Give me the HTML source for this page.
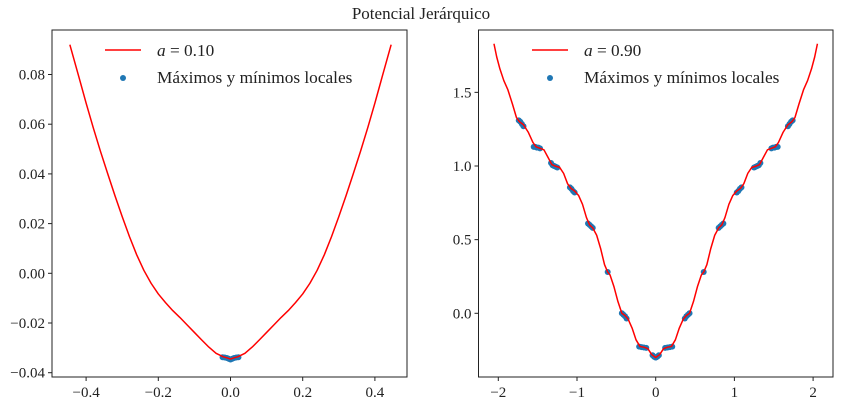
<!DOCTYPE html>
<html><head><meta charset="utf-8"><style>
html,body{margin:0;padding:0;background:#fff;}
svg{display:block;font-family:"Liberation Serif",serif;}
</style></head><body>
<svg id="fig" width="843" height="404" viewBox="0 0 843 404">
<text x="421" y="19" text-anchor="middle" font-size="17" fill="#222">Potencial Jerárquico</text>
<g id="left"></g>
<g id="right"></g>
</svg>
<script>
// Left chart data (a = 0.10), half curve mirrored
const leftHalfX = [0,0.01,0.02,0.04,0.06,0.08,0.1,0.12,0.14,0.16,0.18,0.2,0.22,0.24,0.26,0.28,0.3,0.32,0.34,0.36,0.38,0.4,0.42,0.445];
const leftHalfY = [-0.0345,-0.034,-0.0336,-0.0322,-0.0297,-0.0268,-0.0238,-0.0208,-0.0178,-0.0150,-0.0118,-0.0083,-0.0040,0.0012,0.0075,0.0148,0.0228,0.0312,0.0400,0.0490,0.0585,0.0685,0.0790,0.0920];
const leftDotX = [-0.022,-0.016,-0.01,-0.005,0,0.005,0.01,0.016,0.022];
const leftDotY = [-0.0338,-0.0339,-0.0341,-0.0344,-0.0347,-0.0344,-0.0341,-0.0339,-0.0338];
const leftXTicks = [-0.4,-0.2,0.0,0.2,0.4];
const leftXTickLabels = ["−0.4","−0.2","0.0","0.2","0.4"];
const leftYTicks = [-0.04,-0.02,0,0.02,0.04,0.06,0.08];
const leftYTickLabels = ["−0.04","−0.02","0.00","0.02","0.04","0.06","0.08"];

// Right chart data (a = 0.90)
const rightHalfX = [0,0.05,0.1,0.15,0.2,0.25,0.3,0.35,0.39,0.43,0.48,0.53,0.58,0.61,0.65,0.7,0.75,0.8,0.84,0.88,0.93,0.98,1.03,1.08,1.12,1.17,1.22,1.28,1.32,1.37,1.42,1.47,1.52,1.56,1.62,1.68,1.73,1.77,1.82,1.88,1.93,1.98,2.02,2.055];
const rightHalfY = [-0.30,-0.28,-0.24,-0.23,-0.225,-0.18,-0.10,-0.04,-0.015,0.0,0.08,0.18,0.26,0.28,0.33,0.44,0.53,0.58,0.60,0.65,0.74,0.80,0.83,0.85,0.88,0.95,0.99,1.0,1.01,1.06,1.11,1.12,1.13,1.16,1.23,1.28,1.30,1.33,1.42,1.52,1.58,1.66,1.74,1.83];
const rightDotHalfX = [0,0.02,0.04,0.12,0.15,0.18,0.21,0.37,0.39,0.41,0.43,0.61,0.80,0.82,0.84,0.86,1.03,1.05,1.07,1.09,1.25,1.27,1.29,1.31,1.33,1.47,1.49,1.51,1.53,1.55,1.68,1.70,1.72,1.74];
const rightDotHalfY = [-0.30,-0.295,-0.285,-0.235,-0.232,-0.23,-0.226,-0.035,-0.02,-0.01,0.0,0.28,0.58,0.59,0.60,0.61,0.82,0.83,0.845,0.855,0.99,0.995,1.0,1.005,1.02,1.12,1.125,1.125,1.13,1.13,1.27,1.285,1.30,1.31];
const rightXTicks = [-2,-1,0,1,2];
const rightXTickLabels = ["−2","−1","0","1","2"];
const rightYTicks = [0,0.5,1.0,1.5];
const rightYTickLabels = ["0.0","0.5","1.0","1.5"];

const NS="http://www.w3.org/2000/svg";
function mk(parent,tag,attrs){const e=document.createElementNS(NS,tag);for(const k in attrs)e.setAttribute(k,attrs[k]);parent.appendChild(e);return e;}

function drawChart(g,cfg){
  const sx=v=>cfg.x0+(v-cfg.xa)*cfg.kx;
  const sy=v=>cfg.y0-(v-cfg.ya)*cfg.ky;
  const xs=[],ys=[];
  for(let i=cfg.hx.length-1;i>0;i--){xs.push(-cfg.hx[i]);ys.push(cfg.hy[i]);}
  for(let i=0;i<cfg.hx.length;i++){xs.push(cfg.hx[i]);ys.push(cfg.hy[i]);}
  const dots=mk(g,'g',{});
  
  
  for(let i=0;i<cfg.dx.length;i++){
    const c=mk(dots,'circle',{cx:sx(cfg.dx[i]),cy:sy(cfg.dy[i]),r:3,fill:'#1f77b4'});
    
    
  }
  const p=mk(g,'polyline',{points:xs.map((x,i)=>sx(x)+','+sy(ys[i])).join(' '),fill:'none',stroke:'#ff0000','stroke-width':1.5,'stroke-linejoin':'round'});
  
  
  const f=mk(g,'rect',{x:cfg.L,y:cfg.T,width:cfg.R-cfg.L,height:cfg.B-cfg.T,fill:'none',stroke:'#222','stroke-width':1});
  
  
  cfg.xt.forEach((v,i)=>{
    const X=sx(v);
    mk(g,'line',{x1:X,x2:X,y1:cfg.B,y2:cfg.B+4,stroke:'#222'});
    const t=mk(g,'text',{x:X,y:cfg.B+20,'text-anchor':'middle','font-size':15,fill:'#222'});
    t.textContent=cfg.xl[i];
    
    
  });
  cfg.yt.forEach((v,i)=>{
    const Y=sy(v);
    mk(g,'line',{x1:cfg.L-4,x2:cfg.L,y1:Y,y2:Y,stroke:'#222'});
    const t=mk(g,'text',{x:cfg.L-7,y:Y+5,'text-anchor':'end','font-size':15,fill:'#222'});
    t.textContent=cfg.yl[i];
    
    
  });
  const lg=mk(g,'g',{});
  
  
  mk(lg,'line',{x1:cfg.lx,x2:cfg.lx+36,y1:50,y2:50,stroke:'#ff0000','stroke-width':1.5});
  const t1=mk(lg,'text',{x:cfg.lx+52,y:56,'font-size':17.3,fill:'#222'});
  t1.innerHTML='<tspan font-style="italic">a</tspan> = '+cfg.label;
  
  
  mk(lg,'circle',{cx:cfg.lx+18,cy:78,r:3,fill:'#1f77b4'});
  const t2=mk(lg,'text',{x:cfg.lx+52,y:83,'font-size':17.3,fill:'#222'});
  t2.textContent='Máximos y mínimos locales';
  
  
}

drawChart(document.getElementById('left'),{
  L:52,R:407,T:30,B:377,x0:230.5,xa:0,kx:361,y0:273.3,ya:0,ky:2485,
  hx:leftHalfX,hy:leftHalfY,dx:leftDotX,dy:leftDotY,
  xt:leftXTicks,xl:leftXTickLabels,yt:leftYTicks,yl:leftYTickLabels,lx:105,label:'0.10'
});
drawChart(document.getElementById('right'),{
  L:478.5,R:833,T:30,B:377,x0:655.7,xa:0,kx:78.7,y0:313.3,ya:0,ky:147.3,
  hx:rightHalfX,hy:rightHalfY,
  dx:rightDotHalfX.concat(rightDotHalfX.map(v=>-v)),dy:rightDotHalfY.concat(rightDotHalfY),
  xt:rightXTicks,xl:rightXTickLabels,yt:rightYTicks,yl:rightYTickLabels,lx:532,label:'0.90'
});
</script>
</body></html>
